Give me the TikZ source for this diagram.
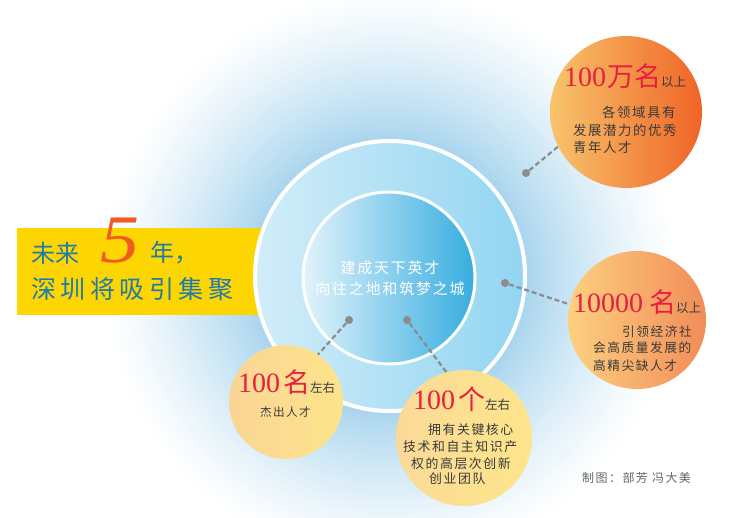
\documentclass[tikz,border=0pt]{standalone}
\usepackage{fontspec}
\newfontfamily\cjk{Noto Sans CJK SC}
\newfontfamily\cjksp[LetterSpace=12]{Noto Sans CJK SC}
\newfontfamily\cjkwide[LetterSpace=18]{Noto Sans CJK SC}
\newfontfamily\numf{Liberation Serif}
\definecolor{glowc}{HTML}{A9D5EE}
\definecolor{ringL}{HTML}{D2EDF9}
\definecolor{ringR}{HTML}{92D5F2}
\definecolor{innerL}{HTML}{E2F3FB}
\definecolor{innerR}{HTML}{36ADDF}
\definecolor{bannery}{HTML}{FDD500}
\definecolor{bannerblue}{HTML}{1F7BAA}
\definecolor{fiveorange}{HTML}{F15A24}
\definecolor{headred}{HTML}{E8203F}
\definecolor{bodygray}{HTML}{3A3A3A}
\definecolor{dotgray}{HTML}{8C8C8C}
\definecolor{creditgray}{HTML}{666666}
\definecolor{oaL}{HTML}{F8C46C}
\definecolor{oaR}{HTML}{EF6426}
\definecolor{obL}{HTML}{FCD080}
\definecolor{obR}{HTML}{F28C58}
\definecolor{ocL}{HTML}{FAD596}
\definecolor{ocR}{HTML}{FDE48A}
\definecolor{odL}{HTML}{FBDA98}
\definecolor{odR}{HTML}{FDE58A}
\newcommand\hnum[1]{{\numf\fontsize{28}{28}\selectfont\color{headred}#1}}
\newcommand\hcjk[1]{{\cjk\fontsize{27}{27}\selectfont\color{headred}#1}}
\newcommand\hsmall[1]{{\cjk\fontsize{12.5}{12.5}\selectfont\color{bodygray}#1}}
\tikzset{
  dotn/.style={circle, fill=dotgray, inner sep=0pt, minimum size=8pt},
  conn/.style={draw=dotgray, line width=2.2pt, dash pattern=on 5pt off 3pt},
  bubble/.style={circle, inner sep=0pt, minimum size=#1},
  body/.style={inner sep=0pt, anchor=west, text=bodygray, font=\cjksp\fontsize{#1}{#1}\selectfont},
  head/.style={inner sep=0pt, anchor=base west},
}
\begin{document}
\begin{tikzpicture}[x=1pt,y=-1pt]
\useasboundingbox (0,0) rectangle (748,518);
\clip (0,0) rectangle (748,518);
\fill[white] (0,0) rectangle (748,518);
% glow
\foreach \i in {0,...,77}{
  \pgfmathsetmacro\rr{290-2*\i}
  \pgfmathsetmacro\pp{100*(\i/77)^1.3}
  \fill[glowc!\pp!white] (390,276) circle (\rr);
}
% banner
\fill[bannery] (17,228) rectangle (262,315);
% rings
\shade[left color=ringL, right color=ringR] (390,276) circle (135);
\draw[white, line width=4pt] (390,276) circle (135);
\shade[left color=innerL, right color=innerR] (389,278) circle (86);
\draw[white, line width=3pt] (389,278) circle (86);
% centre text
\node[align=center, text=white, font=\cjksp\fontsize{15}{21}\selectfont, inner sep=0pt] (core) at (390,278.5) {建成天下英才\\向往之地和筑梦之城};
% banner text
\node[anchor=west, inner sep=0pt, text=bannerblue, font=\cjk\fontsize{24}{24}\selectfont] (w1) at (31,253) {未来};
\node[anchor=base west, inner sep=0pt, text=fiveorange, font=\numf\itshape\fontsize{68}{68}\selectfont, xscale=1.15] (five) at (100,263) {5};
\node[anchor=west, inner sep=0pt, text=bannerblue, font=\cjk\fontsize{24}{24}\selectfont] (w2) at (150,253) {年，};
\node[anchor=west, inner sep=0pt, text=bannerblue, font=\cjkwide\fontsize{25}{25}\selectfont] (w3) at (31,289) {深圳将吸引集聚};
% dots
\node[dotn] (d1) at (526,173) {};
\node[dotn] (d2) at (505,283) {};
\node[dotn] (d3) at (349,320) {};
\node[dotn] (d4) at (407,320) {};
% bubbles
\node[bubble=152pt, left color=oaL, right color=oaR] (c1) at (626,112) {};
\node[bubble=138pt, left color=obL, right color=obR] (c2) at (637,320) {};
\node[bubble=114pt, left color=ocL, right color=ocR] (c3) at (286,402) {};
\node[bubble=136pt, left color=odL, right color=odR] (c4) at (464,438) {};
% connectors
\draw[conn] (d1) -- (c1.207.9);
\draw[conn] (d2) -- (c2.167.4);
\draw[conn] (d3) -- (c3.56);
\draw[conn] (d4) -- (c4.105.6);
% bubble 1
\node[head] (h1) at (564,87) {\hnum{100}\hspace{1pt}\hcjk{万名}\hsmall{以上}};
\node[body=13.4] (b1a) at (602,112) {各领域具有};
\node[body=13.4] (b1b) at (573,130) {发展潜力的优秀};
\node[body=13.4] (b1c) at (573,147) {青年人才};
% bubble 2
\node[head] (h2) at (573,313) {\hnum{10000}\hspace{6pt}\hcjk{名}\hsmall{以上}};
\node[body=12.7] (b2a) at (622,332) {引领经济社};
\node[body=12.7] (b2b) at (593,348) {会高质量发展的};
\node[body=12.7] (b2c) at (593,366) {高精尖缺人才};
% bubble 3
\node[head] (h3) at (238,393) {\hnum{100}\hspace{3pt}\hcjk{名}\hsmall{左右}};
\node[body=11.6] (b3a) at (260,412) {杰出人才};
% bubble 4
\node[head] (h4) at (413,410) {\hnum{100}\hspace{3pt}\hcjk{个}\hsmall{左右}};
\node[body=12.9] (b4a) at (428,430) {拥有关键核心};
\node[body=12.9] (b4b) at (403,447) {技术和自主知识产};
\node[body=12.9] (b4c) at (411,464) {权的高层次创新};
\node[body=12.9] (b4d) at (429,479) {创业团队};
% credit
\node[anchor=west, inner sep=0pt, text=creditgray, font=\cjksp\fontsize{12}{12}\selectfont] (cred) at (582,478) {制图：部芳\ 冯大美};
\end{tikzpicture}
\end{document}
